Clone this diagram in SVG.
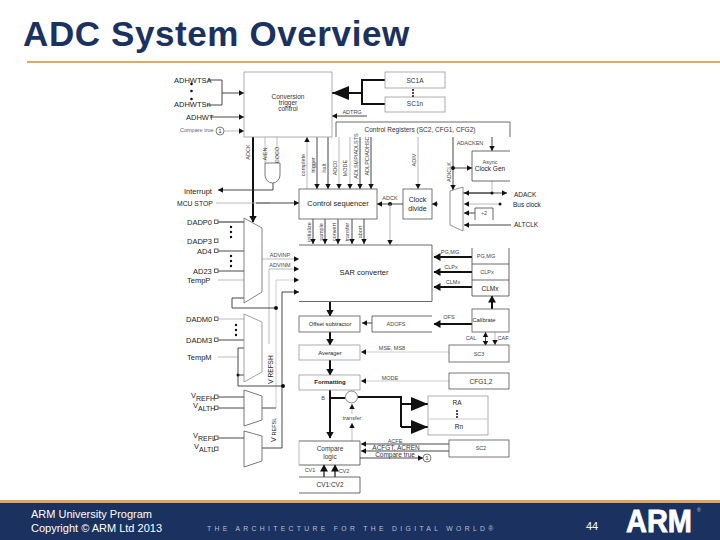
<svg xmlns="http://www.w3.org/2000/svg" width="720" height="540" viewBox="0 0 720 540">
<style>
text{font-family:"Liberation Sans",Arial,sans-serif;fill:#222}
.m{text-anchor:middle}
.e{text-anchor:end}
.s{font-size:5.5px;fill:#444;text-anchor:middle}
.n{font-size:6.5px;fill:#333;text-anchor:middle}
.p{font-size:7.5px;fill:#222}
.b{fill:#fff;stroke:#555;stroke-width:.8}
.f{fill:#fff;stroke:#999;stroke-width:.8}
.h{fill:none;stroke:#444;stroke-width:.8}
.g{fill:none;stroke:#aaa;stroke-width:.8}
.l{fill:none;stroke:#333;stroke-width:.9}
.lg{fill:none;stroke:#ccc;stroke-width:1}
.t{fill:none;stroke:#111;stroke-width:2}
.a{marker-end:url(#sa)}
.ta{marker-end:url(#ta)}
.ba{marker-end:url(#ba)}
.d{fill:#111}
</style>
<defs>
<marker id="sa" markerUnits="userSpaceOnUse" markerWidth="6" markerHeight="6" refX="5" refY="3" orient="auto"><path d="M0 .3L5 3L0 5.7z" fill="#111"/></marker>
<marker id="sb" markerUnits="userSpaceOnUse" markerWidth="6" markerHeight="6" refX="1" refY="3" orient="auto"><path d="M5 .3L0 3L5 5.7z" fill="#111"/></marker>
<marker id="ta" markerUnits="userSpaceOnUse" markerWidth="8" markerHeight="8" refX="6.5" refY="4" orient="auto"><path d="M0 0L7 4L0 8z" fill="#111"/></marker>
<marker id="ba" markerUnits="userSpaceOnUse" markerWidth="18" markerHeight="14" refX="17" refY="7" orient="auto"><path d="M0 0L17 7L0 14z" fill="#111"/></marker>
</defs>
<rect width="720" height="540" fill="#fff"/>

<g id="header">
<text x="23" y="46" font-size="35" font-weight="700" style="fill:#1b3160;letter-spacing:.6px">ADC System Overview</text>
<rect x="27" y="61" width="693" height="2" fill="#e3aa5c"/>
</g>

<g id="connectors">
<path class="l" d="M208 80H222V105H207"/>
<path class="l a" d="M222 93H244"/>
<path class="l a" d="M210 117H244"/>
<path class="g a" d="M224 131H244"/>
<path class="t ta" d="M253 137V222"/>
<path class="l" d="M273 183V190"/>
<path class="l a" d="M273 190H218"/>
<path class="g" d="M216 203H270"/>
<path class="l a" d="M256 203H299"/>
<path class="g" d="M265 137V163M277 137V163"/>
<path class="g a" d="M307 189V137"/>
<path class="l a" d="M317 137V189"/>
<path class="l a" d="M328 137V189"/>
<path class="g a" d="M339 137V189"/>
<path class="g a" d="M350 137V189"/>
<path class="l a" d="M360 137V189"/>
<path class="l a" d="M371 137V189"/>
<path class="t" d="M385 80H362V104H385"/>
<path class="t ba" d="M362 93H332"/>
<path class="l a" d="M367 116H332"/>
<path class="g a" d="M418 137V189"/>
<path class="l a" d="M492 137V151"/>
<path class="l a" d="M453 137V190"/>
<path class="l a" d="M453 168H472"/>
<circle class="d" cx="453" cy="168" r="2"/>
<path class="g" d="M492 181V193"/>
<path class="l a" d="M463 193H507"/>
<path class="l a" d="M492 193H464"/>
<circle class="d" cx="492" cy="193" r="1.5"/>
<path class="g a" d="M498 204H464"/>
<circle class="d" cx="500" cy="204" r="1.5"/>
<path class="l a" d="M475 213H464"/>
<path class="l a" d="M511 225H464"/>
<path class="l a" d="M438 204H432"/>
<path class="l a" d="M403 204H377"/>
<circle class="d" cx="390" cy="204" r="2"/>
<path class="g a" d="M390 204V245"/>
<path class="l a" d="M313 219V244"/>
<path class="l a" d="M325 219V244"/>
<path class="l a" d="M338 219V244"/>
<path class="l a" d="M352 219V244"/>
<path class="l a" d="M364 219V244"/>

<path class="g" d="M218 222H244"/>
<path class="l" d="M218 222H244M218 251H244M218 271H244"/>
<path class="g" d="M218 280H244"/>
<path class="g a" d="M262 259H299"/>
<path class="g a" d="M269 344V269H299"/>
<path class="lg a" d="M276 408V280H299"/>
<path class="l a" d="M282 448V292H299"/>
<path class="l" d="M244 298H232V308H276"/>
<circle class="d" cx="276" cy="308" r="2"/>
<path class="g" d="M218 319H244"/>
<path class="l" d="M218 340H244"/>
<path class="g" d="M218 357H238"/>
<path class="l" d="M244 348H238V386H282"/>
<circle class="d" cx="238" cy="375" r="1.5"/>
<path class="l" d="M238 375H244"/>
<circle class="d" cx="283" cy="386" r="2"/>
<path class="l" d="M218 397H244M218 408H244M218 438H244M262 408H276M262 448H282"/>

<path class="t ta" d="M330 302V316"/>
<path class="t ta" d="M330 332V345"/>
<path class="t ta" d="M330 360V375"/>
<path class="t ta" d="M330 390V438"/>
<path class="t ta" d="M324 477V465" style="stroke-width:1.2"/>
<path class="t ta" d="M335 477V465" style="stroke-width:1.2"/>
<path class="t" d="M330 398H345"/>
<path class="g a" d="M352 414V404"/>
<path class="g a" d="M352 441V423"/>
<path class="t" d="M358 397H401V427"/>
<path class="t ba" d="M401 404H428"/>
<path class="t ba" d="M401 427H428"/>
<path class="t ta" d="M472 257H434"/>
<path class="t ta" d="M472 272H434"/>
<path class="t ta" d="M472 287H434"/>
<path class="t ta" d="M492 309V296"/>
<path class="t ta" d="M472 324H434"/>
<path class="l a" d="M372 323H362" />
<path class="l a" d="M485.500 345V332" style="marker-start:url(#sb)"/>
<path class="g a" d="M495 332V345"/>
<path class="lg a" d="M449 352H361"/>
<path class="lg a" d="M449 381H361"/>
<path class="l a" d="M449 444H361"/>
<path class="l a" d="M449 451H361"/>
<path class="l a" d="M360 458H423"/>
</g>

<g id="inputs">
<text class="p" x="174" y="83">ADHWTSA</text>
<text class="p" x="174" y="107">ADHWTSn</text>
<text class="p" x="186" y="120">ADHWT</text>
<text x="180" y="132" font-size="5.500" style="fill:#667">Compare true</text>
<circle cx="220" cy="131" r="4" fill="#fff" stroke="#444" stroke-width=".7"/>
<text x="220" y="133" font-size="5.500" class="m">1</text>
<circle class="d" cx="191.500" cy="84" r="1.300"/><circle class="d" cx="191.500" cy="91" r="1.300"/><circle class="d" cx="191.500" cy="99" r="1.300"/>
<text class="p" x="184" y="194">Interrupt</text>
<text x="177" y="205.500" font-size="6.800">MCU STOP</text>
<text class="p" x="187" y="225">DADP0</text><rect class="h" x="214.500" y="220" width="3.500" height="3.500"/>
<text class="p" x="187" y="244">DADP3</text><rect class="h" x="214.500" y="239" width="3.500" height="3.500"/>
<text class="p" x="197" y="254">AD4</text><rect class="h" x="214.500" y="249" width="3.500" height="3.500"/>
<text class="p" x="193" y="274">AD23</text><rect class="h" x="214.500" y="269" width="3.500" height="3.500"/>
<text class="p" x="187" y="283">TempP</text>
<circle class="d" cx="231" cy="227" r="1.200"/><circle class="d" cx="231" cy="232" r="1.200"/><circle class="d" cx="231" cy="237" r="1.200"/>
<circle class="d" cx="231" cy="256" r="1.200"/><circle class="d" cx="231" cy="261" r="1.200"/><circle class="d" cx="231" cy="266" r="1.200"/>
<text class="p" x="186" y="322">DADM0</text><rect class="h" x="214.500" y="317" width="3.500" height="3.500"/>
<text class="p" x="186" y="343">DADM3</text><rect class="h" x="214.500" y="338" width="3.500" height="3.500"/>
<text class="p" x="187" y="360">TempM</text>
<circle class="d" cx="236" cy="325" r="1.200"/><circle class="d" cx="236" cy="330" r="1.200"/><circle class="d" cx="236" cy="335" r="1.200"/>
<text class="p" x="191" y="398">V<tspan font-size="7" dy="3">REFH</tspan></text><rect class="h" x="214.500" y="395" width="3.500" height="3.500"/>
<text class="p" x="193" y="408">V<tspan font-size="7" dy="3">ALTH</tspan></text><rect class="h" x="214.500" y="406" width="3.500" height="3.500"/>
<text class="p" x="193" y="438">V<tspan font-size="7" dy="3">REFL</tspan></text><rect class="h" x="214.500" y="436" width="3.500" height="3.500"/>
<text class="p" x="194" y="449">V<tspan font-size="7" dy="3">ALTL</tspan></text><rect class="h" x="214.500" y="447" width="3.500" height="3.500"/>
</g>

<g id="conversion-trigger">
<rect class="f" x="244" y="72" width="88" height="65"/>
<text class="n" x="288" y="99">Conversion</text>
<text class="n" x="288" y="105">trigger</text>
<text class="n" x="288" y="111">control</text>
</g>
<g id="sc1a"><rect class="f" x="385" y="72" width="60" height="16"/><text class="n" x="415" y="83">SC1A</text></g>
<g id="sc1n"><rect class="f" x="385" y="97" width="60" height="15"/><text class="n" x="415" y="106">SC1n</text>
<circle class="d" cx="413" cy="90" r="1"/><circle class="d" cx="413" cy="93" r="1"/><circle class="d" cx="413" cy="96" r="1"/></g>
<g id="control-registers">
<path class="h" d="M336 137V122H510V137"/>
<text class="n" x="420" y="132">Control Registers (SC2, CFG1, CFG2)</text>
</g>
<g id="and-gate"><path fill="#fff" stroke="#555" stroke-width=".8" d="M265 163H280V175A7.500 8 0 0 1 265 175Z"/></g>
<g id="control-sequencer">
<rect class="b" x="299" y="189" width="78" height="30"/>
<text class="m" x="338" y="206" font-size="7.500">Control sequencer</text>
</g>
<g id="clock-divide">
<rect class="b" x="403" y="189" width="29" height="30"/>
<text class="m" x="417.500" y="202" font-size="7">Clock</text><text class="m" x="417.500" y="211" font-size="7">divide</text>
</g>
<g id="async-clock">
<path class="h" d="M510 151H472V181H510"/>
<text class="s" x="490" y="164">Async</text>
<text class="m" x="490" y="171" font-size="6.500">Clock Gen</text>
</g>
<g id="clock-mux">
<path fill="#fff" stroke="#777" stroke-width=".8" d="M450 191L463 187V231L450 225Z"/>
<path class="h" d="M475 220V208H493V220"/>
<text class="s" x="484" y="215">÷2</text>
<text x="514" y="197" font-size="6.500">ADACK</text>
<text x="513" y="207" font-size="6.500">Bus clock</text>
<text x="514" y="227" font-size="6.500">ALTCLK</text>
</g>
<g id="sar-converter">
<path fill="#fff" d="M299 245H432V302H299Z"/>
<path class="h" d="M299 245H432V301.500H299"/>
<text class="m" x="364" y="275" font-size="7.500">SAR converter</text>
</g>
<g id="mux-p"><path class="f" d="M244 218L262 228V292L244 303Z" style="stroke:#666"/></g>
<g id="mux-m"><path class="f" d="M244 314L262 322V372L244 382Z" style="stroke:#888"/></g>
<g id="mux-refh"><path class="b" d="M244 390L262 396V420L244 426Z"/></g>
<g id="mux-refl"><path class="b" d="M244 431L262 436V461L244 467Z"/></g>
<g id="offset-subtractor"><rect class="b" x="299" y="316" width="61" height="16"/><text class="m" x="330" y="326" font-size="5.800">Offset subtractor</text></g>
<g id="adofs"><path class="h" d="M432 316H372V332H432"/><text class="s" x="396" y="326">ADOFS</text></g>
<g id="averager"><rect class="f" x="299" y="345" width="61" height="15"/><text class="m" x="330" y="354.500" font-size="5.800">Averager</text></g>
<g id="formatting"><rect class="f" x="299" y="375" width="61" height="15"/><text class="m" x="330" y="384" font-size="6" font-weight="700">Formatting</text></g>
<g id="adder"><circle cx="351.500" cy="397" r="6" fill="#fff" stroke="#666" stroke-width=".8"/></g>
<g id="compare-logic">
<path class="h" d="M299 441H360V465H299M299 477H360M299 493H360"/>
<path class="g" d="M299 441V465"/>
<path class="h" d="M360 477V493"/>
<text class="n" x="330" y="451">Compare</text>
<text class="n" x="330" y="459">logic</text>
<text class="n" x="330" y="487">CV1:CV2</text>
</g>
<g id="result-registers">
<rect class="f" x="428" y="396" width="60" height="39"/>
<path class="lg" d="M428 419H488"/>
<text class="m" x="457" y="405" font-size="6.500">RA</text>
<circle class="d" cx="457" cy="411" r="1"/><circle class="d" cx="457" cy="414" r="1"/><circle class="d" cx="457" cy="417" r="1"/>
<text class="m" x="459" y="429" font-size="6.500">Rn</text>
</g>
<g id="pg-mg">
<path class="h" d="M472 248V296H509V248M472 264H509"/>
<path class="h" d="M472 280H509"/>
<text class="s" x="486" y="258">PG,MG</text>
<text class="s" x="487" y="274">CLPx</text>
<text class="m" x="490" y="290.500" font-size="6.500">CLMx</text>
</g>
<g id="calibrate"><rect class="b" x="472" y="309" width="37" height="23"/><text class="m" x="484" y="322" font-size="5.800">Calibrate</text></g>
<g id="sc3"><rect class="b" x="449" y="345" width="60" height="17"/><text class="s" x="479" y="356">SC3</text></g>
<g id="cfg12"><rect class="b" x="449" y="373" width="60" height="16"/><text class="n" x="481" y="384">CFG1,2</text></g>
<g id="sc2"><rect class="b" x="449" y="440" width="60" height="17"/><text class="s" x="481" y="450">SC2</text></g>
<g id="compare-true-2">
<circle cx="427" cy="458" r="4" fill="#fff" stroke="#444" stroke-width=".7"/>
<text x="427" y="460" font-size="5.500" class="m">1</text>
</g>

<g id="labels">
<text class="s" x="352" y="114">ADTRG</text>
<text class="s" transform="translate(250 152) rotate(-90)">ADCK</text>
<text class="s" transform="translate(267 154) rotate(-90)">AIEN</text>
<text class="s" transform="translate(279 155) rotate(-90)">COCO</text>
<text class="s" transform="translate(305 165) rotate(-90)">complete</text>
<text class="s" transform="translate(315 165) rotate(-90)">trigger</text>
<text class="s" transform="translate(326 168) rotate(-90)">halt</text>
<text class="s" transform="translate(337 168) rotate(-90)">ADC0</text>
<text class="s" transform="translate(347 168) rotate(-90)">MODE</text>
<text class="s" transform="translate(358 156) rotate(-90)">ADLSMP/ADLSTS</text>
<text class="s" transform="translate(369 156) rotate(-90)">ADLPC/ADHSC</text>
<text class="s" transform="translate(416 160) rotate(-90)">ADIV</text>
<text class="s" x="470" y="145">ADACKEN</text>
<text class="s" transform="translate(451 172) rotate(-90)">ADICLK</text>
<text class="s" x="390" y="200">ADCK</text>
<text class="s" transform="translate(311 232) rotate(-90)">initialize</text>
<text class="s" transform="translate(323 232) rotate(-90)">sample</text>
<text class="s" transform="translate(336 232) rotate(-90)">convert</text>
<text class="s" transform="translate(349 232) rotate(-90)">transfer</text>
<text class="s" transform="translate(362 232) rotate(-90)">abort</text>
<text class="s" x="280" y="257">ADVINP</text>
<text class="s" x="280" y="267">ADVINM</text>
<text class="s" x="450" y="254">PG,MG</text>
<text class="s" x="451" y="269">CLPx</text>
<text class="s" x="453" y="284">CLMx</text>
<text class="s" x="449" y="319">OFS</text>
<text class="s" x="471" y="340">CAL</text>
<text class="s" x="503" y="340">CAF</text>
<text class="s" x="392" y="350">MSE, MS8</text>
<text class="s" x="390" y="380">MODE</text>
<text x="273" y="384" font-size="7" transform="rotate(-90 273 384)" style="fill:#222">V <tspan font-size="6.500">REFSH</tspan></text>
<text x="276" y="442" font-size="7" transform="rotate(-90 276 442)" style="fill:#222">V <tspan font-size="5.500">REFSL</tspan></text>
<text class="s" x="323" y="400">B</text>
<text class="s" x="352" y="420">transfer</text>
<text class="s" x="310" y="472">CV1</text>
<text class="s" x="344" y="473">CV2</text>
<text class="s" x="395" y="443">ACFE</text>
<text class="n" x="396" y="450">ACFGT, ACREN</text>
<text class="n" x="395" y="457">Compare true</text>
</g>

<g id="footer">
<rect x="0" y="500" width="720" height="4" fill="#e3a45a"/>
<rect x="0" y="503" width="720" height="37" fill="#1b3160"/>
<text x="31" y="518" font-size="11" style="fill:#fff">ARM University Program</text>
<text x="31" y="532" font-size="11" style="fill:#fff">Copyright © ARM Ltd 2013</text>
<text x="207" y="531" font-size="6.800" style="fill:#b9c0cf;letter-spacing:3.330px">THE ARCHITECTURE FOR THE DIGITAL WORLD®</text>
<text x="586" y="530" font-size="11" style="fill:#fff">44</text>
<text x="626" y="532" font-size="32" font-weight="700" textLength="66" lengthAdjust="spacingAndGlyphs" style="fill:#fff;stroke:#fff;stroke-width:.8">ARM</text>
<text x="697" y="512" font-size="5" style="fill:#ccc">®</text>
</g>
</svg>
